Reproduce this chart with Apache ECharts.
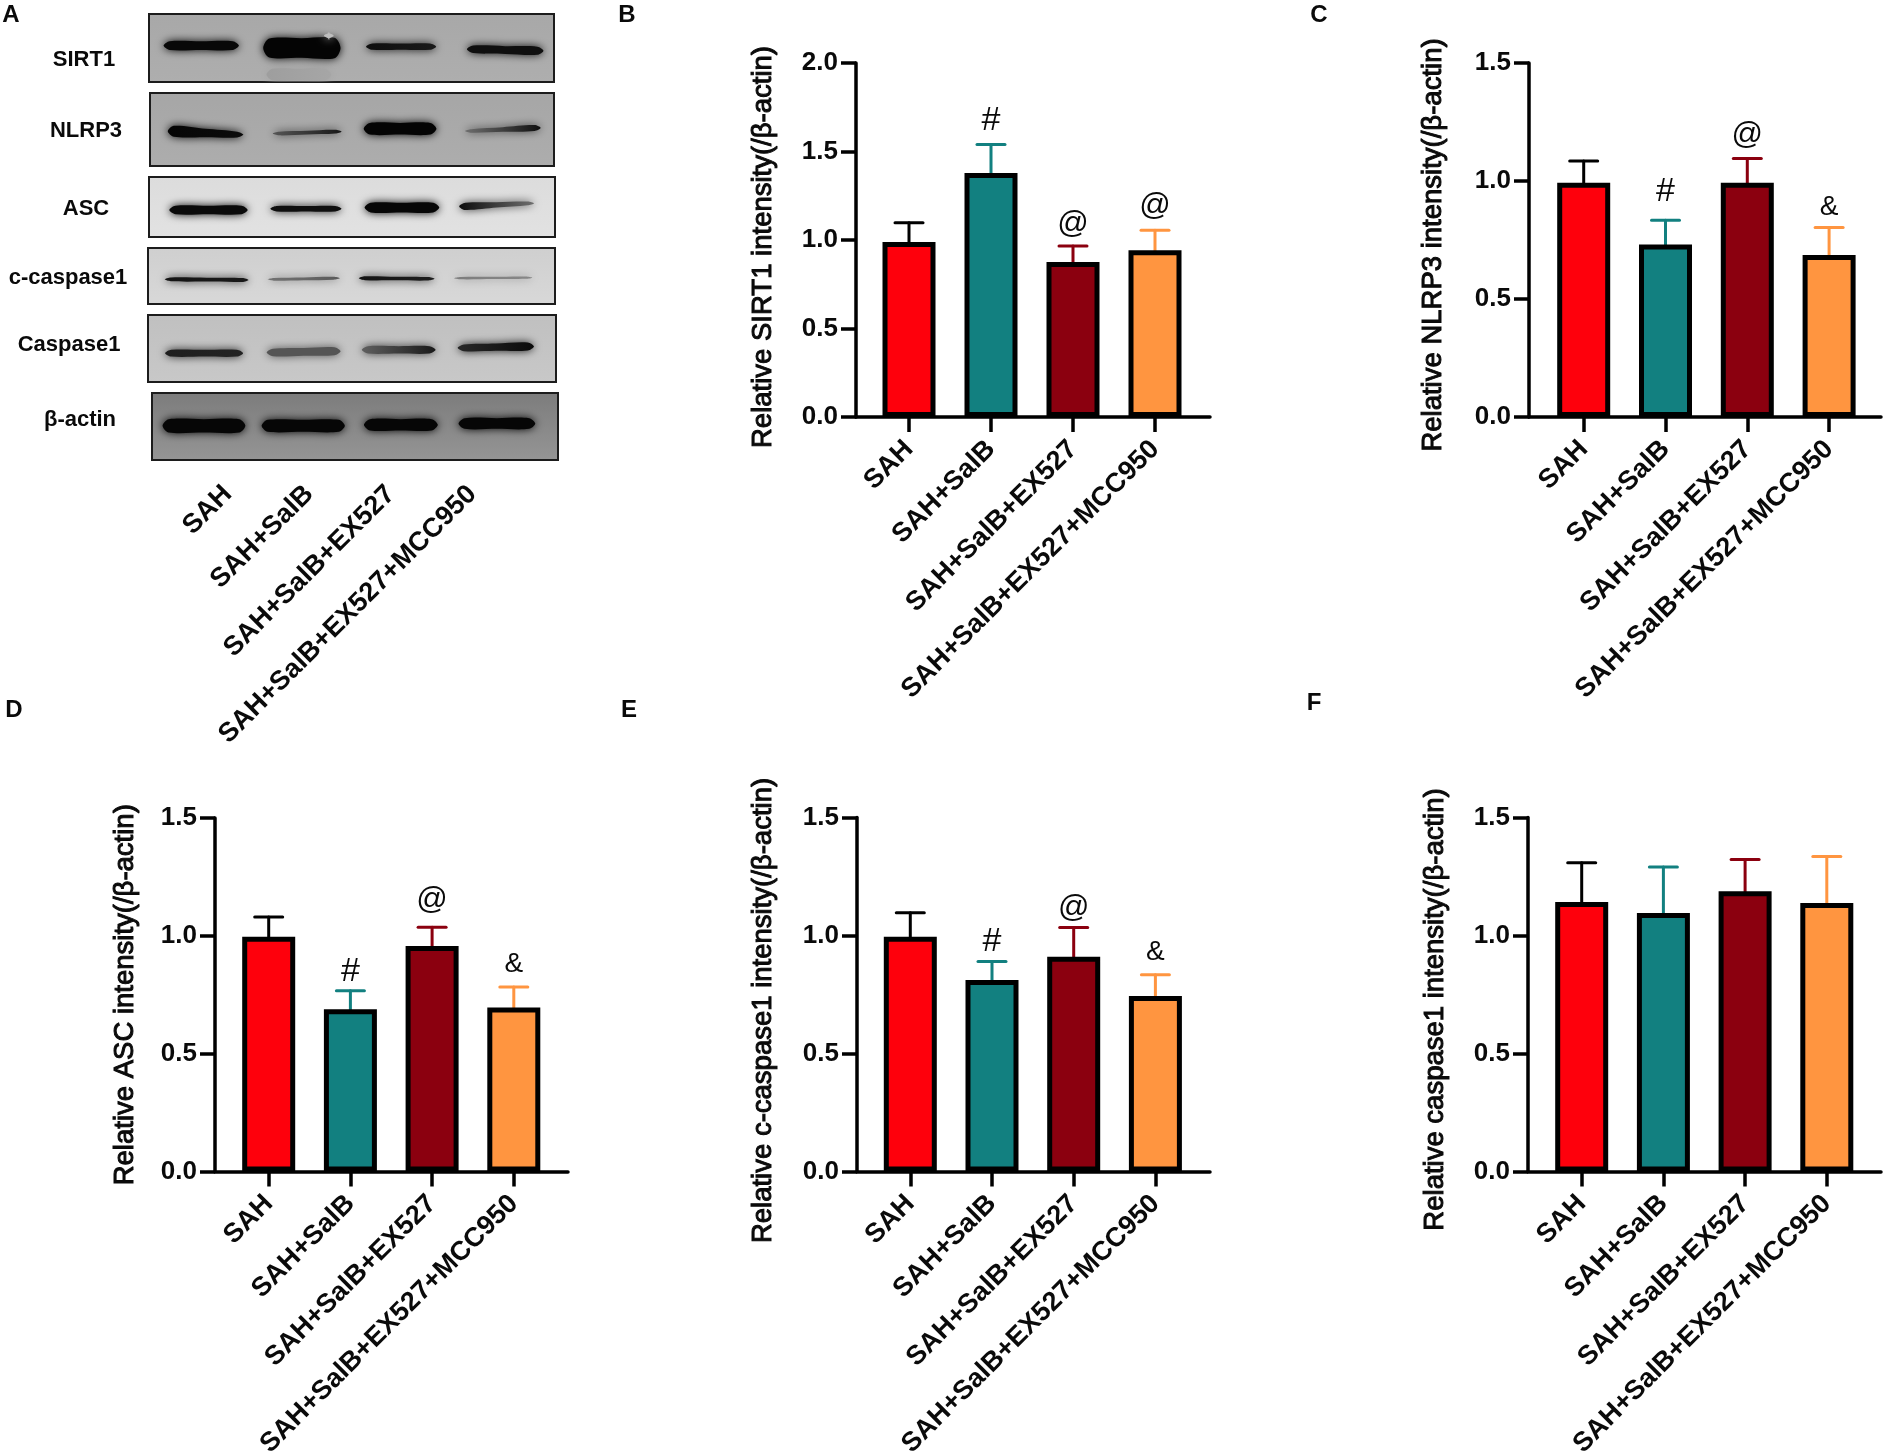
<!DOCTYPE html>
<html>
<head>
<meta charset="utf-8">
<script src="https://cdn.jsdelivr.net/npm/echarts@6/dist/echarts.min.js"></script>
</head>
<body style="margin:0;background:#fff">
<div id="main" style="width:1884px;height:1452px"></div>
<script type="text/javascript">
// groups, same order in every panel
var groups = ['SAH', 'SAH+SalB', 'SAH+SalB+EX527', 'SAH+SalB+EX527+MCC950'];
var barColors = ['#fe000c', '#128080', '#8b000f', '#ff9540'];
var capColors = ['#000000', '#128080', '#8b000f', '#ff9540'];

// bar height and top of error bar
var sirt1Bars = [0.989, 1.379, 0.876, 0.942];
var sirt1Caps = [1.098, 1.540, 0.966, 1.055];
var sirt1Marks = ['', '#', '@', '@'];
var sirt1MarkY = [0, 1.672, 1.087, 1.192];

var nlrp3Bars = [0.993, 0.731, 0.993, 0.686];
var nlrp3Caps = [1.085, 0.834, 1.095, 0.803];
var nlrp3Marks = ['', '#', '@', '&'];
var nlrp3MarkY = [0, 0.954, 1.194, 0.890];

var ascBars = [0.996, 0.688, 0.957, 0.696];
var ascCaps = [1.080, 0.767, 1.036, 0.783];
var ascMarks = ['', '#', '@', '&'];
var ascMarkY = [0, 0.848, 1.149, 0.880];

var ccaspBars = [0.995, 0.811, 0.910, 0.744];
var ccaspCaps = [1.096, 0.890, 1.034, 0.834];
var ccaspMarks = ['', '#', '@', '&'];
var ccaspMarkY = [0, 0.974, 1.115, 0.927];

var caspBars = [1.142, 1.095, 1.187, 1.138];
var caspCaps = [1.308, 1.290, 1.322, 1.335];
var caspMarks = ['', '', '', ''];
var caspMarkY = [0, 0, 0, 0];

// blot bands: x0, x1, y left, y right, thick left, thick right (percent of blot), gray left, gray right
var sirt1Bands = [
  [29, 45, 89, 89, 17, 17, 158, 166],
  [3.6, 22.2, 46.5, 46.5, 13, 13, 8, 8],
  [28.2, 47.3, 50, 50, 28, 30, 4, 4],
  [43.2, 45.6, 32, 32, 10, 10, 190, 190],
  [53.6, 70.9, 48, 48, 9, 9, 15, 25],
  [78.5, 97.4, 52, 54, 11, 12, 15, 15]
];
var nlrp3Bands = [
  [4.4, 23.1, 52.5, 57, 15, 8, 5, 12],
  [30.4, 47.4, 55.5, 53, 5, 5, 85, 25],
  [52.9, 70.9, 49, 49, 16, 16, 4, 4],
  [78, 96.7, 52, 48, 5, 8, 110, 15]
];
var ascBands = [
  [5, 24.3, 55, 55, 14, 14, 10, 10],
  [29.9, 47.4, 53, 53, 9, 9, 15, 15],
  [53.1, 71.5, 51, 51, 16, 16, 6, 6],
  [76.4, 94.8, 49, 44, 12, 6, 12, 110]
];
var ccaspBands = [
  [4.1, 24.7, 56, 57, 7, 7, 20, 25],
  [29.4, 47.1, 56, 54, 5, 5, 115, 90],
  [51.8, 70.4, 54, 55, 7, 6, 20, 30],
  [75.3, 94.4, 54, 53, 4, 4, 125, 135]
];
var caspBands = [
  [4.2, 23.3, 57, 57, 10, 10, 30, 35],
  [29.1, 47.2, 56, 54, 11, 12, 85, 85],
  [52.4, 70.5, 52, 52, 11, 11, 95, 25],
  [75.9, 94.6, 49, 47, 10, 12, 40, 10]
];
var actinBands = [
  [2.6, 23, 49, 49, 20, 20, 6, 6],
  [27, 47.5, 49, 49, 18, 18, 6, 6],
  [52.2, 70.4, 47.5, 47.5, 17, 17, 6, 6],
  [75.5, 94.4, 45.5, 45.5, 16, 16, 6, 6]
];

var FONT = '"Liberation Sans", Arial, sans-serif';
var myChart = echarts.init(document.getElementById('main'));

var grids = [], xAxes = [], yAxes = [], series = [], graphics = [];

function addAxesPair(grid, xAxis, yAxis) {
  var idx = grids.length;
  grids.push(grid);
  xAxis.gridIndex = idx;
  yAxis.gridIndex = idx;
  xAxes.push(xAxis);
  yAxes.push(yAxis);
  return idx;
}

function addText(text, x, y, size, weight) {
  graphics.push({
    type: 'text', x: x, y: y,
    style: { text: text, align: 'center', verticalAlign: 'middle', fill: '#0a0a0a',
      font: weight + ' ' + size + 'px ' + FONT }
  });
}

function renderBand(params, api) {
  var x0 = api.value(0), x1 = api.value(1), yl = api.value(2), yr = api.value(3);
  var tl = api.value(4) / 2, tr = api.value(5) / 2;
  var xm = (x0 + x1) / 2, ym = (yl + yr) / 2, tm = tl / 2 + tr / 2;
  var corners = [
    [x0, yl], [x0 + 1.5, yl - tl], [xm, ym - tm], [x1 - 1.5, yr - tr],
    [x1, yr], [x1 - 1.5, yr + tr], [xm, ym + tm], [x0 + 1.5, yl + tl]
  ];
  var gl = api.value(6), gr = api.value(7);
  var gm = Math.round((gl + gr) / 2);
  return {
    type: 'polygon',
    shape: { points: corners.map(function (p) { return api.coord(p); }), smooth: 0.3 },
    style: {
      fill: new echarts.graphic.LinearGradient(0, 0, 1, 0, [
        { offset: 0, color: 'rgb(' + gl + ',' + gl + ',' + gl + ')' },
        { offset: 1, color: 'rgb(' + gr + ',' + gr + ',' + gr + ')' }
      ]),
      shadowBlur: 8,
      shadowColor: 'rgb(' + gm + ',' + gm + ',' + gm + ')'
    }
  };
}

// panel A
[
  { name: 'SIRT1', bands: sirt1Bands, box: [149, 14, 405, 68], top: '#a8a8a8', bottom: '#aeaeae', lx: 84, ly: 60 },
  { name: 'NLRP3', bands: nlrp3Bands, box: [150, 93, 404, 73], top: '#a6a6a6', bottom: '#adadad', lx: 86, ly: 131 },
  { name: 'ASC', bands: ascBands, box: [149, 177, 406, 60], top: '#dcdcdc', bottom: '#e2e2e2', lx: 86, ly: 209 },
  { name: 'c-caspase1', bands: ccaspBands, box: [148, 248, 407, 56], top: '#cfcfcf', bottom: '#d8d8d8', lx: 68, ly: 278 },
  { name: 'Caspase1', bands: caspBands, box: [148, 315, 408, 67], top: '#c0c0c0', bottom: '#c8c8c8', lx: 69, ly: 345 },
  { name: 'β-actin', bands: actinBands, box: [152, 393, 406, 67], top: '#7c7c7c', bottom: '#959595', lx: 80, ly: 420 }
].forEach(function (b) {
  var idx = addAxesPair(
    { left: b.box[0], top: b.box[1], width: b.box[2], height: b.box[3], show: true,
      outerBoundsMode: 'none', borderColor: '#1c1c1c', borderWidth: 2,
      backgroundColor: new echarts.graphic.LinearGradient(0, 0, 0, 1, [
        { offset: 0, color: b.top }, { offset: 1, color: b.bottom }
      ]) },
    { type: 'value', min: 0, max: 100, show: false },
    { type: 'value', min: 0, max: 100, inverse: true, show: false }
  );
  series.push({ type: 'custom', xAxisIndex: idx, yAxisIndex: idx, clip: true, silent: true,
    renderItem: renderBand, data: b.bands });
  addText(b.name, b.lx, b.ly, 22, 'bold');
});

// lane names under the blots
addAxesPair(
  { left: 187, top: 440, width: 326, height: 40, outerBoundsMode: 'none' },
  { type: 'category', data: groups,
    axisLine: { show: false }, axisTick: { show: false },
    axisLabel: { interval: 0, rotate: 45, margin: 10, color: '#0a0a0a', fontFamily: FONT, fontWeight: 'bold', fontSize: 27 } },
  { type: 'value', show: false }
);

function renderError(params, api) {
  var i = api.value(0);
  var base = api.coord([i, api.value(1)]);
  var cap = api.coord([i, api.value(2)]);
  var lineStyle = { stroke: capColors[i], lineWidth: 3, lineCap: 'round' };
  return {
    type: 'group',
    children: [
      { type: 'line', shape: { x1: base[0], y1: base[1], x2: cap[0], y2: cap[1] }, style: lineStyle },
      { type: 'line', shape: { x1: cap[0] - 14, y1: cap[1], x2: cap[0] + 14, y2: cap[1] }, style: lineStyle }
    ]
  };
}

var markSizes = { '#': 34, '@': 31, '&': 28 };

function addPanel(p) {
  var sp = p.spacing;
  var idx = addAxesPair(
    { left: p.left, top: p.top, width: p.right - p.left, height: p.bottom - p.top, outerBoundsMode: 'none' },
    {
      type: 'value',
      min: -(p.c0 - p.left) / sp,
      max: (p.right - p.c0) / sp,
      splitLine: { show: false },
      axisLine: { lineStyle: { color: '#000', width: 3.5 } },
      axisTick: { customValues: [0, 1, 2, 3], length: 15, lineStyle: { color: '#000', width: 3.5 } },
      axisLabel: {
        customValues: [0, 1, 2, 3], rotate: 45, margin: 28, color: '#0a0a0a',
        fontFamily: FONT, fontWeight: 'bold', fontSize: 27,
        formatter: function (v) { return groups[v]; }
      }
    },
    {
      type: 'value', min: 0, max: p.ymax, interval: 0.5,
      splitLine: { show: false },
      axisLine: { show: true, onZero: false, lineStyle: { color: '#000', width: 3.5 } },
      axisTick: { show: true, length: 15, lineStyle: { color: '#000', width: 3.5 } },
      axisLabel: { margin: 18, color: '#0a0a0a', fontFamily: FONT, fontWeight: 'bold', fontSize: 26,
        formatter: function (v) { return v.toFixed(1); } },
      name: p.title, nameLocation: 'middle', nameGap: p.nameGap,
      nameTextStyle: { color: '#0a0a0a', fontFamily: FONT, fontSize: 27.5, textBorderColor: '#0a0a0a', textBorderWidth: 1,
        padding: [0, p.nameShift * 2, 0, 0] }
    }
  );
  series.push({
    type: 'custom', xAxisIndex: idx, yAxisIndex: idx, z: 1, renderItem: renderError,
    data: p.bars.map(function (v, i) { return [i, v, p.caps[i]]; })
  });
  series.push({
    type: 'bar', xAxisIndex: idx, yAxisIndex: idx, z: 2, barWidth: 53,
    data: p.bars.map(function (v, i) {
      return { value: [i, v], itemStyle: { color: barColors[i], borderColor: '#000', borderWidth: 5 } };
    })
  });
  series.push({
    type: 'custom', xAxisIndex: idx, yAxisIndex: idx, z: 3,
    renderItem: function (params, api) {
      var i = api.value(0), m = p.marks[i];
      if (!m) return null;
      var pt = api.coord([i, api.value(1)]);
      return { type: 'text', style: { text: m, x: pt[0], y: pt[1], align: 'center', verticalAlign: 'middle',
        fill: '#0a0a0a', font: markSizes[m] + 'px ' + FONT } };
    },
    data: p.markY.map(function (v, i) { return [i, v]; })
  });
}

addPanel({ title: 'Relative SIRT1 intensity(/β-actin)', bars: sirt1Bars, caps: sirt1Caps, marks: sirt1Marks, markY: sirt1MarkY,
  ymax: 2, left: 856, right: 1210, top: 63, bottom: 417, c0: 909, spacing: 82, nameGap: 79, nameShift: 7 });
addPanel({ title: 'Relative NLRP3 intensity(/β-actin)', bars: nlrp3Bars, caps: nlrp3Caps, marks: nlrp3Marks, markY: nlrp3MarkY,
  ymax: 1.5, left: 1529, right: 1881, top: 63, bottom: 417, c0: 1583.7, spacing: 81.8, nameGap: 82, nameShift: 5 });
addPanel({ title: 'Relative ASC intensity(/β-actin)', bars: ascBars, caps: ascCaps, marks: ascMarks, markY: ascMarkY,
  ymax: 1.5, left: 215, right: 568, top: 818, bottom: 1171.5, c0: 268.7, spacing: 81.7, nameGap: 76, nameShift: 0 });
addPanel({ title: 'Relative c-caspase1 intensity(/β-actin)', bars: ccaspBars, caps: ccaspCaps, marks: ccaspMarks, markY: ccaspMarkY,
  ymax: 1.5, left: 857, right: 1210, top: 817.5, bottom: 1171.5, c0: 910.3, spacing: 81.7, nameGap: 80, nameShift: 16 });
addPanel({ title: 'Relative caspase1 intensity(/β-actin)', bars: caspBars, caps: caspCaps, marks: caspMarks, markY: caspMarkY,
  ymax: 1.5, left: 1528, right: 1881, top: 817.5, bottom: 1171.5, c0: 1581.7, spacing: 81.7, nameGap: 79, nameShift: 15 });

// panel letters
[['A', 11, 15], ['B', 627, 15], ['C', 1319, 15], ['D', 14, 710], ['E', 629, 710], ['F', 1314, 703]].forEach(function (l) {
  addText(l[0], l[1], l[2], 24, 'bold');
});

myChart.setOption({
  animation: false,
  backgroundColor: '#fff',
  grid: grids,
  xAxis: xAxes,
  yAxis: yAxes,
  series: series,
  graphic: graphics
});
</script>
</body>
</html>
